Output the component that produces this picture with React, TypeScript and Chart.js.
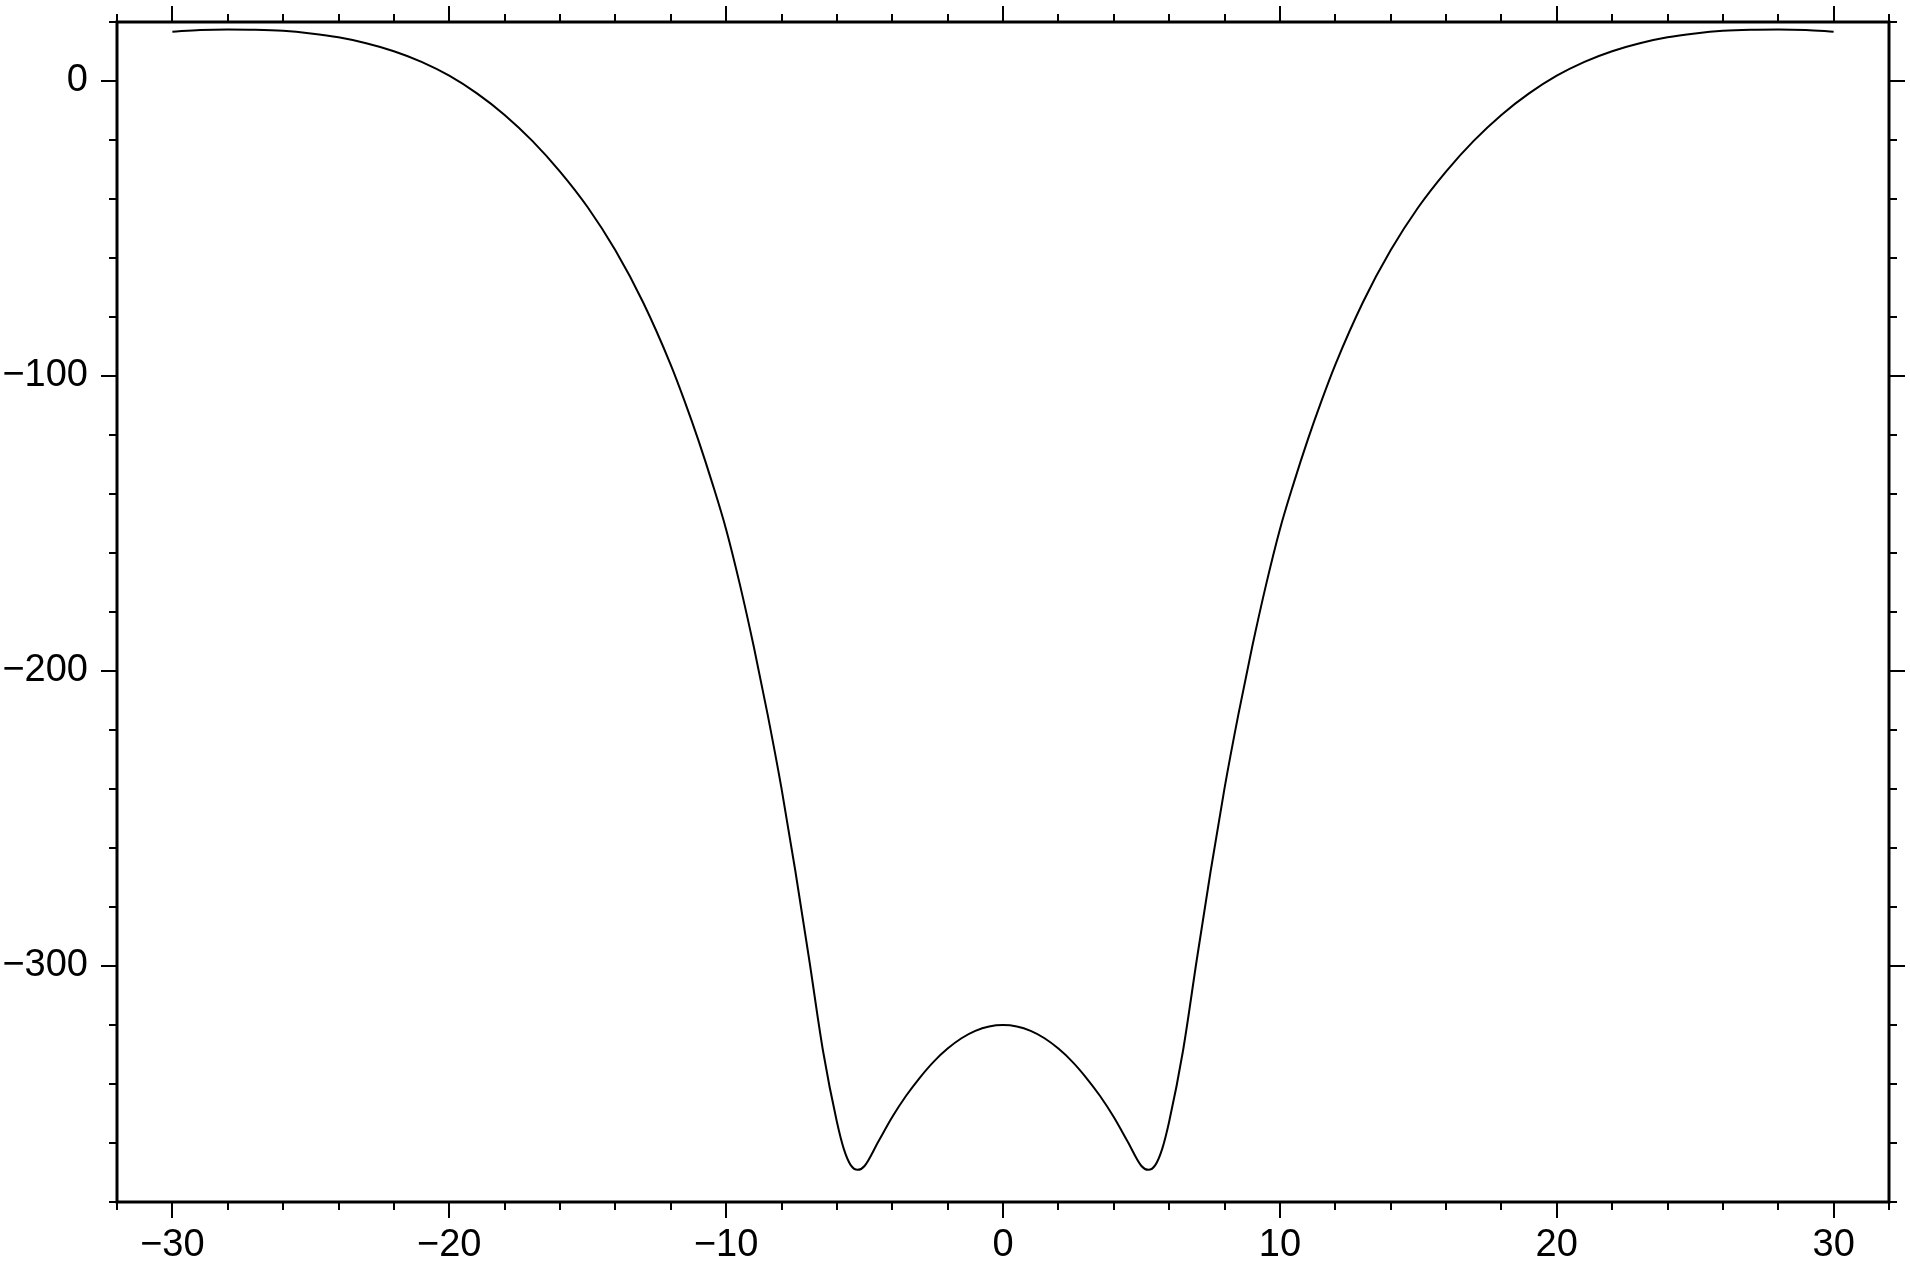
import React, { useEffect, useRef } from "react";
import { Chart, registerables } from "chart.js";

Chart.register(...registerables);

// x positions (km) of the sampled profile
const X_VALUES: number[] = [
  -30, -29, -28, -27, -26, -25, -24, -23, -22, -21, -20, -19, -18, -17, -16, -15,
  -14, -13, -12, -11.5, -11, -10.5, -10, -9.5, -9, -8.5, -8, -7.5, -7, -6.5, -6,
  -5.75, -5.5, -5.25, -5, -4.5, -4, -3.5, -3, -2.5, -2, -1.5, -1, -0.5, 0, 0.5, 1,
  1.5, 2, 2.5, 3, 3.5, 4, 4.5, 5, 5.25, 5.5, 5.75, 6, 6.5, 7, 7.5, 8, 8.5, 9, 9.5,
  10, 10.5, 11, 11.5, 12, 13, 14, 15, 16, 17, 18, 19, 20, 21, 22, 23, 24, 25, 26,
  27, 28, 29, 30,
];

// profile values
const Y_VALUES: number[] = [
  16.7, 17.3, 17.5, 17.4, 17.0, 16.1, 14.8, 12.8, 10.1, 6.5, 1.8, -4.2, -11.5,
  -20.3, -30.7, -42.8, -57.4, -75.0, -96.2, -108.5, -121.8, -136.3, -152.0, -170.8,
  -191.8, -214.8, -239.8, -267.8, -297.8, -328.8, -352.8, -362, -367.5, -369.1,
  -367.8, -359.5, -351.2, -344, -337.8, -332.4, -328, -324.5, -322, -320.5, -320,
  -320.5, -322, -324.5, -328, -332.4, -337.8, -344, -351.2, -359.5, -367.8, -369.1,
  -367.5, -362, -352.8, -328.8, -297.8, -267.8, -239.8, -214.8, -191.8, -170.8,
  -152.0, -136.3, -121.8, -108.5, -96.2, -75.0, -57.4, -42.8, -30.7, -20.3, -11.5,
  -4.2, 1.8, 6.5, 10.1, 12.8, 14.8, 16.1, 17.0, 17.4, 17.5, 17.3, 16.7,
];

// axis ranges and tick settings
const X_RANGE: number[] = [-32, 32];
const Y_RANGE: number[] = [-380, 20];
const X_MINOR_STEP = 2;
const Y_MINOR_STEP = 20;
const X_MAJOR_TICKS: number[] = [-30, -20, -10, 0, 10, 20, 30];
const Y_MAJOR_TICKS: number[] = [-300, -200, -100, 0];

const fmt = (v: number) => (v < 0 ? "\u2212" + Math.abs(v) : String(v));

const frameTicksPlugin = {
  id: "frameTicks",
  afterDraw(chart: any) {
    const ctx = chart.ctx as CanvasRenderingContext2D;
    const { left, right, top, bottom } = chart.chartArea;
    const xs = chart.scales.x;
    const ys = chart.scales.y;
    ctx.save();
    ctx.strokeStyle = "#000";
    ctx.lineCap = "butt";
    ctx.lineWidth = 2;
    const MAJ = 16;
    const MIN = 8;
    xs.ticks.forEach((t: any) => {
      const v = t.value;
      const px = Math.round(xs.getPixelForValue(v));
      const len = X_MAJOR_TICKS.includes(v) ? MAJ : MIN;
      ctx.beginPath();
      ctx.moveTo(px, bottom);
      ctx.lineTo(px, bottom + len);
      ctx.moveTo(px, top);
      ctx.lineTo(px, top - len);
      ctx.stroke();
    });
    ys.ticks.forEach((t: any) => {
      const v = t.value;
      const py = Math.round(ys.getPixelForValue(v));
      const len = Y_MAJOR_TICKS.includes(v) ? MAJ : MIN;
      ctx.beginPath();
      ctx.moveTo(left, py);
      ctx.lineTo(left - len, py);
      ctx.moveTo(right, py);
      ctx.lineTo(right + len, py);
      ctx.stroke();
    });
    ctx.lineWidth = 3;
    ctx.lineCap = "square";
    ctx.strokeRect(left, top, right - left, bottom - top);
    ctx.restore();
  },
};

export default function App() {
  const ref = useRef<HTMLCanvasElement | null>(null);
  useEffect(() => {
    if (!ref.current) return;
    const points = X_VALUES.map((x, i) => ({ x, y: Y_VALUES[i] }));
    const chart = new Chart(ref.current, {
      type: "line",
      data: {
        datasets: [
          {
            data: points,
            borderColor: "#000",
            borderWidth: 2,
            pointRadius: 0,
            fill: false,
            cubicInterpolationMode: "monotone",
          },
        ],
      },
      options: {
        animation: false,
        responsive: false,
        maintainAspectRatio: false,
        layout: { padding: { top: 22, right: 21, left: 0, bottom: 0 } },
        plugins: { legend: { display: false }, tooltip: { enabled: false } },
        scales: {
          x: {
            type: "linear",
            min: X_RANGE[0],
            max: X_RANGE[1],
            border: { display: false },
            grid: { display: false, drawTicks: false },
            ticks: {
              stepSize: X_MINOR_STEP,
              autoSkip: false,
              maxRotation: 0,
              padding: 21,
              color: "#000",
              font: { family: "'Liberation Sans', Arial, sans-serif", size: 38 },
              callback: (v: any) => (X_MAJOR_TICKS.includes(Number(v)) ? fmt(Number(v)) : ""),
            },
            afterFit: (s: any) => {
              s.height = 61;
              s.paddingLeft = 0;
              s.paddingRight = 0;
            },
          },
          y: {
            type: "linear",
            min: Y_RANGE[0],
            max: Y_RANGE[1],
            border: { display: false },
            grid: { display: false, drawTicks: false },
            ticks: {
              stepSize: Y_MINOR_STEP,
              autoSkip: false,
              padding: 29,
              color: "#000",
              font: { family: "'Liberation Sans', Arial, sans-serif", size: 38 },
              callback: (v: any) => (Y_MAJOR_TICKS.includes(Number(v)) ? fmt(Number(v)) : ""),
            },
            afterFit: (s: any) => {
              s.width = 117;
              s.paddingTop = 0;
              s.paddingBottom = 0;
            },
          },
        },
      },
      plugins: [frameTicksPlugin],
    });
    return () => chart.destroy();
  }, []);
  return (
    <div style={{ position: "fixed", left: 0, top: 0, width: 1910, height: 1263, background: "#fff" }}>
      <canvas ref={ref} width={1910} height={1263} style={{ width: 1910, height: 1263 }} />
    </div>
  );
}
